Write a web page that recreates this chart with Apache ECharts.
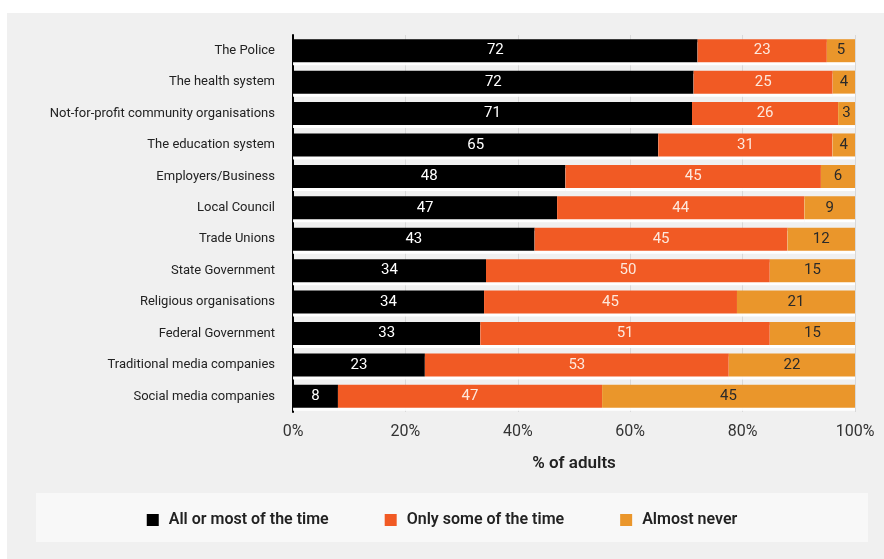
<!DOCTYPE html>
<html>
<head>
<meta charset="utf-8">
<script src="https://cdn.jsdelivr.net/npm/echarts@6/dist/echarts.min.js"></script>
<style>
html,body{margin:0;padding:0;background:#fff;}
#c{width:884px;height:559px;}
</style>
</head>
<body>
<div id="c"></div>
<script>
var categories = ["The Police","The health system","Not-for-profit community organisations","The education system","Employers/Business","Local Council","Trade Unions","State Government","Religious organisations","Federal Government","Traditional media companies","Social media companies"];
var allOrMost = [72,72,71,65,48,47,43,34,34,33,23,8];
var someTime = [23,25,26,31,45,44,45,50,45,51,53,47];
var almostNever = [5,4,3,4,6,9,12,15,21,15,22,45];
var seriesNames = ["All or most of the time","Only some of the time","Almost never"];
var tickLabels = ["0%","20%","40%","60%","80%","100%"];

var raw = [allOrMost, someTime, almostNever];
var totals = categories.map(function(_, i){ return allOrMost[i] + someTime[i] + almostNever[i]; });
var colors = ["#000000", "#F15A24", "#EA962B"];
var labelColors = ["#ffffff", "#fde8dc", "#2a2a2a"];

var chart = echarts.init(document.getElementById('c'), null, {renderer:'canvas'});
var font = "Roboto, 'Noto Sans', sans-serif";

var series = raw.map(function(arr, s){
  return {
    name: seriesNames[s],
    type: 'bar',
    stack: 'total',
    barWidth: 23,
    data: arr.map(function(v, i){ return {value: v / totals[i] * 100, raw: v}; }).reverse(),
    itemStyle: {color: colors[s], shadowColor: 'rgba(255,255,255,0.95)', shadowOffsetY: 3, shadowBlur: 0},
    label: {
      show: true,
      position: 'inside',
      color: labelColors[s],
      fontFamily: font,
      fontSize: 15,
      formatter: function(p){ return p.data.raw; }
    },
    emphasis: {disabled: true}
  };
});

chart.setOption({
  animation: false,
  backgroundColor: '#ffffff',
  textStyle: {fontFamily: font},
  graphic: [
    {type: 'rect', shape: {x: 7, y: 13, width: 877, height: 546}, style: {fill: '#f0f0f0'}, z: -10},
    {type: 'rect', shape: {x: 36, y: 493, width: 832, height: 49}, style: {fill: '#f8f8f8'}, z: -9}
  ],
  grid: {left: 293, right: 29, top: 35, bottom: 147, containLabel: false},
  legend: {
    data: seriesNames,
    left: 'center',
    top: 507,
    icon: 'rect',
    itemWidth: 12,
    itemHeight: 12,
    itemGap: 56,
    textStyle: {fontFamily: font, fontSize: 16, fontWeight: 600, color: '#222', padding: [0,0,0,5]}
  },
  xAxis: {
    type: 'value',
    min: 0,
    max: 100,
    interval: 20,
    name: '% of adults',
    nameLocation: 'middle',
    nameGap: 43,
    nameTextStyle: {fontFamily: font, fontSize: 17, fontWeight: 600, color: '#222'},
    axisLine: {show: false},
    axisTick: {show: false},
    splitLine: {show: true, lineStyle: {color: '#d9d9d9', width: 1}},
    axisLabel: {
      color: '#333', fontSize: 16, fontFamily: font, margin: 12,
      formatter: function(v){ return tickLabels[Math.round(v/20)]; }
    }
  },
  yAxis: {
    type: 'category',
    data: categories.slice().reverse(),
    axisLine: {show: true, lineStyle: {color: '#000', width: 2}},
    axisTick: {show: false},
    axisLabel: {color: '#222', fontSize: 13, fontFamily: font, margin: 18}
  },
  series: series
});
</script>
</body>
</html>
